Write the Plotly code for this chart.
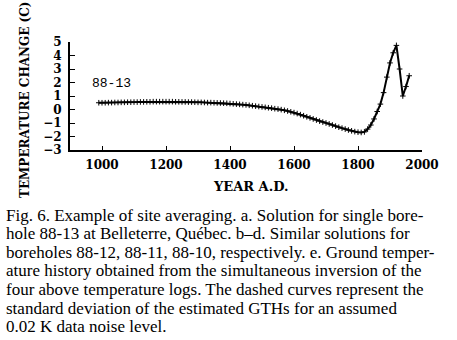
import plotly.graph_objects as go

# Ground temperature history for borehole 88-13 (Belleterre, Québec)
years = list(range(990, 1961, 10))
temp_change = [
    0.50, 0.50, 0.50, 0.51, 0.51, 0.52, 0.52, 0.53, 0.53, 0.54,
    0.54, 0.55, 0.55, 0.56, 0.56, 0.57, 0.57, 0.58, 0.58, 0.58,
    0.58, 0.58, 0.58, 0.58, 0.57, 0.57, 0.56, 0.56, 0.55, 0.55,
    0.54, 0.53, 0.53, 0.52, 0.51, 0.51, 0.50, 0.49, 0.48, 0.47,
    0.46, 0.44, 0.42, 0.40, 0.38, 0.36, 0.34, 0.31, 0.28, 0.25,
    0.22, 0.19, 0.16, 0.13, 0.10, 0.06, 0.03, -0.01, -0.06, -0.11,
    -0.17, -0.23, -0.30, -0.38, -0.46, -0.54, -0.62, -0.70, -0.78, -0.86,
    -0.93, -1.00, -1.07, -1.15, -1.23, -1.31, -1.38, -1.45, -1.52, -1.58,
    -1.64, -1.68, -1.70, -1.66, -1.45, -1.15, -0.70, -0.15, 0.40, 1.25,
    2.40, 3.45, 4.20, 4.75, 3.00, 1.00, 1.70, 2.50,
]

x_ticks = [1000, 1200, 1400, 1600, 1800, 2000]
y_ticks = [-3, -2, -1, 0, 1, 2, 3, 4, 5]

caption_lines = [
    "Fig. 6. Example of site averaging. a. Solution for single bore-",
    "hole 88-13 at Belleterre, Québec. b–d. Similar solutions for",
    "boreholes 88-12, 88-11, 88-10, respectively. e. Ground temper-",
    "ature history obtained from the simultaneous inversion of the",
    "four above temperature logs. The dashed curves represent the",
    "standard deviation of the estimated GTHs for an assumed",
    "0.02 K data noise level.",
]

W, H = 457, 340
L, R, T, B = 70, 35, 42, 190
PW, PH = W - L - R, H - T - B


def px_x(x):
    return (x - L) / PW


def px_y(y):
    return (H - B - y) / PH


bold = dict(family="DejaVu Serif", size=12, color="black", weight="bold")

fig = go.Figure()
fig.add_trace(go.Scatter(
    x=years, y=temp_change, mode="lines+markers",
    line=dict(color="black", width=2),
    marker=dict(symbol="cross-thin", size=4, line=dict(color="black", width=1)),
    showlegend=False,
))

annotations = [
    dict(text="88-13", x=1031, y=1.9, xref="x", yref="y", showarrow=False,
         xanchor="center", yanchor="middle",
         font=dict(family="Liberation Mono", size=13, color="black")),
    dict(text="YEAR A.D.", x=px_x(251), y=px_y(186), xref="paper", yref="paper",
         xanchor="center", yanchor="middle", showarrow=False,
         font=dict(family="DejaVu Serif", size=13, color="black", weight="bold")),
    dict(text="TEMPERATURE CHANGE (C)", x=px_x(25), y=px_y(100), xref="paper", yref="paper",
         xanchor="center", yanchor="middle", textangle=-90, showarrow=False, font=bold),
]
for i, line in enumerate(caption_lines):
    annotations.append(dict(
        text=line, x=px_x(4), y=px_y(215 + i * 18.6), xref="paper", yref="paper",
        xanchor="left", yanchor="middle", showarrow=False,
        font=dict(family="Liberation Serif", size=17, color="black"),
    ))

fig.update_layout(
    width=W, height=H,
    margin=dict(l=L, r=R, t=T, b=B),
    paper_bgcolor="white", plot_bgcolor="white",
    annotations=annotations,
    xaxis=dict(
        range=[900, 2000], tickvals=x_ticks, ticks="inside", ticklen=4,
        tickwidth=1, tickcolor="black", showgrid=False, zeroline=False,
        showline=True, linecolor="black", linewidth=2, tickfont=bold,
        ticklabelstandoff=3,
    ),
    yaxis=dict(
        range=[-3, 5], tickvals=y_ticks, ticks="inside", ticklen=5,
        tickwidth=1, tickcolor="black", showgrid=False, zeroline=False,
        showline=True, linecolor="black", linewidth=2, tickfont=bold,
        ticklabelstandoff=4,
    ),
)

fig.write_html("out.html")
